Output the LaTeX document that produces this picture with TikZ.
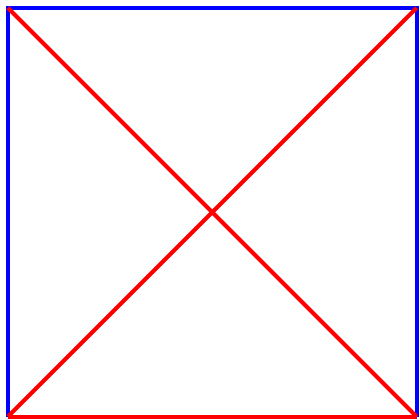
\documentclass[tikz,border=0pt]{standalone}
\begin{document}
\begin{tikzpicture}[x=1pt,y=-1pt,
  edgeblue/.style={draw=blue,line width=4pt},
  edgered/.style={draw=red,line width=4pt}]
\useasboundingbox (0,0) rectangle (418,420);
\coordinate (tl) at (8,8);
\coordinate (tr) at (416.5,8);
\coordinate (br) at (416.5,416.5);
\coordinate (bl) at (8,416.5);
\draw[edgeblue] (bl) -- (tl) -- (tr) -- (br);
\draw[edgered] (bl) -- (br);
\draw[edgered] (tl) -- (br);
\draw[edgered] (bl) -- (tr);
\end{tikzpicture}
\end{document}
